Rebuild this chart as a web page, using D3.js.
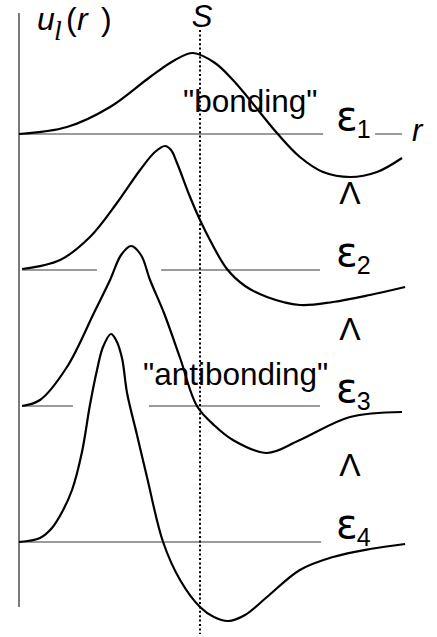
<!DOCTYPE html>
<html>
<head>
<meta charset="utf-8">
<script src="https://cdn.jsdelivr.net/npm/d3@7"></script>
<style>
  html, body { margin: 0; padding: 0; background: #fff; }
  svg { display: block; }
  text { font-family: "Liberation Sans", Arial, sans-serif; fill: #000; }
</style>
</head>
<body>
<svg id="chart" width="437" height="637"></svg>
<script>
// Radial wavefunctions u_l(r) for four levels, r in units of the sphere radius S.
const levels = [1, 2, 3, 4];
const levelSubscripts = ["1", "2", "3", "4"];

const wave1 = [[0,0],[0.265,0.07],[0.503,0.27],[0.724,0.57],[0.862,0.74],[0.961,0.81],[1.083,0.71],
  [1.182,0.54],[1.276,0.34],[1.425,0.01],[1.552,-0.23],[1.680,-0.38],[1.829,-0.43],[1.978,-0.38],[2.116,-0.24]];
const wave2 = [[0.017,0.01],[0.227,0.10],[0.392,0.33],[0.541,0.67],[0.669,1.00],[0.751,1.18],[0.807,1.24],
  [0.840,1.20],[0.873,1.07],[0.945,0.73],[1.000,0.50],[1.055,0.30],[1.149,0.01],[1.249,-0.16],[1.370,-0.27],
  [1.552,-0.35],[1.735,-0.32],[1.939,-0.25],[2.133,-0.17]];
const wave3 = [[0.017,0],[0.116,0.06],[0.265,0.39],[0.414,0.93],[0.503,1.26],[0.564,1.51],[0.619,1.60],
  [0.674,1.51],[0.724,1.26],[0.801,0.93],[0.890,0.48],[0.983,0.00],[1.083,-0.20],[1.182,-0.34],[1.370,-0.47],
  [1.552,-0.34],[1.829,-0.11],[2.116,-0.06]];
const wave4 = [[0,0],[0.116,0.04],[0.182,0.14],[0.238,0.30],[0.293,0.52],[0.348,0.90],[0.392,1.37],[0.431,1.72],
  [0.464,1.95],[0.508,2.08],[0.536,2.02],[0.569,1.84],[0.597,1.49],[0.652,1.07],[0.707,0.65],
  [0.796,0.00],[0.890,-0.38],[1.000,-0.65],[1.077,-0.75],[1.155,-0.79],[1.249,-0.73],[1.370,-0.55],
  [1.552,-0.28],[1.735,-0.15],[1.939,-0.07],[2.133,-0.02]];
const waves = [wave1, wave2, wave3, wave4];

// Energy-level reference lines (r extents of each drawn piece)
const levelSegments = [
  [[0, 1.680], [1.967, 2.116]],
  [[0.017, 0.431], [0.785, 1.663]],
  [[0.017, 0.298], [0.718, 1.663]],
  [[0, 1.669]]
];

const svg = d3.select("#chart");
const x = d3.scaleLinear().domain([0, 1]).range([19, 200]);
const yLevel = d3.scaleLinear().domain([1, 4]).range([134, 542]);
const u = d3.scaleLinear().domain([0, 1]).range([0, -100]);

// level lines
levels.forEach((lv, i) => {
  levelSegments[i].forEach(seg => {
    svg.append("line")
      .attr("x1", x(seg[0])).attr("x2", x(seg[1]))
      .attr("y1", yLevel(lv)).attr("y2", yLevel(lv))
      .attr("stroke", "#7a7a7a").attr("stroke-width", 1.5);
  });
});

// vertical u-axis
svg.append("line")
  .attr("x1", x(0)).attr("x2", x(0))
  .attr("y1", 13).attr("y2", 607)
  .attr("stroke", "#333").attr("stroke-width", 1.3);

// sphere radius S (dotted)
svg.append("line")
  .attr("x1", x(1)).attr("x2", x(1))
  .attr("y1", 30).attr("y2", 634)
  .attr("stroke", "#000").attr("stroke-width", 2)
  .attr("stroke-dasharray", "2,2.4");

// wavefunctions
levels.forEach((lv, i) => {
  const line = d3.line()
    .x(d => x(d[0]))
    .y(d => yLevel(lv) + u(d[1]))
    .curve(d3.curveCatmullRom.alpha(0.5));
  svg.append("path")
    .attr("d", line(waves[i]))
    .attr("fill", "none")
    .attr("stroke", "#000")
    .attr("stroke-width", 2.2);
});

// epsilon labels
levels.forEach((lv, i) => {
  const t = svg.append("text")
    .attr("x", 336).attr("y", yLevel(lv) - 4);
  t.append("tspan").text("ε")
    .style("font-family", "'DejaVu Sans', sans-serif")
    .style("font-size", "40px");
  t.append("tspan").text(levelSubscripts[i])
    .style("font-size", "25px")
    .attr("dx", -1)
    .attr("dy", 8);
});

// ordering marks between levels
levels.slice(0, -1).forEach((lv, i) => {
  svg.append("text")
    .attr("x", 350).attr("y", (yLevel(lv) + yLevel(levels[i + 1])) / 2 + 2)
    .attr("text-anchor", "middle")
    .style("font-size", "32px")
    .text("Λ");
});

// annotations
svg.append("text").attr("x", x(0.906)).attr("y", yLevel(1) - 22)
  .style("font-size", "31.5px").text("\"bonding\"");
svg.append("text").attr("x", x(0.685)).attr("y", yLevel(3) - 21)
  .style("font-size", "31.5px").text("\"antibonding\"");

svg.append("text").attr("x", x(1) + 2).attr("y", 27)
  .attr("text-anchor", "middle")
  .style("font-size", "31px").style("font-style", "italic").text("S");

svg.append("text").attr("x", 412).attr("y", yLevel(1) + 7)
  .style("font-size", "31px").style("font-style", "italic").text("r");

// u_l(r ) axis label, pieces placed individually
const labelY = 30;
svg.append("text").attr("x", 37).attr("y", labelY)
  .style("font-size", "32px").style("font-style", "italic").text("u");
svg.append("text").attr("x", 54).attr("y", labelY + 10)
  .style("font-family", "'Liberation Serif', serif").style("font-style", "italic")
  .style("font-size", "28px").text("l");
svg.append("text").attr("x", 66).attr("y", labelY)
  .style("font-size", "32px").text("(");
svg.append("text").attr("x", 77).attr("y", labelY)
  .style("font-size", "32px").style("font-style", "italic").text("r");
svg.append("text").attr("x", 101).attr("y", labelY)
  .style("font-size", "32px").text(")");
</script>
</body>
</html>
